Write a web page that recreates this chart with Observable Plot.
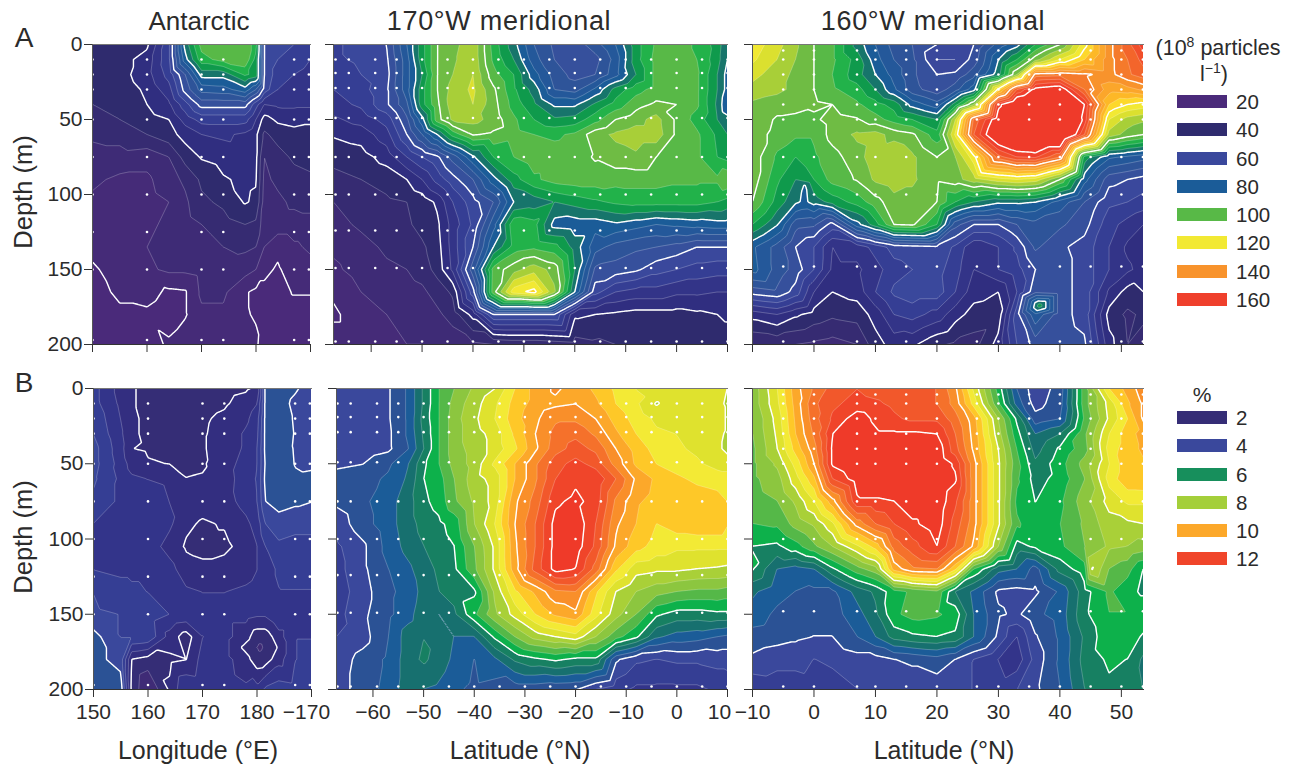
<!DOCTYPE html>
<html><head><meta charset="utf-8">
<script src="https://cdn.jsdelivr.net/npm/d3@7"></script>
<script src="https://cdn.jsdelivr.net/npm/@observablehq/plot@0.6"></script>
<style>
html,body{margin:0;padding:0;background:#fff}
#page{position:relative;width:1293px;height:765px;overflow:hidden;font-family:"Liberation Sans",Arial,sans-serif;color:#2b2b2b}
#page svg{position:absolute;overflow:visible}
.t{position:absolute;white-space:nowrap;line-height:1}
.sw{position:absolute;width:50px;height:13px}
</style></head><body><div id="page"></div>
<script>
// ---- sampled depths (m) shared by all sections
const depthRows = [0,10,20,30,40,50,60,75,90,105,120,135,150,165,180,200];

// ---- Panel A: particles, 10^8 per litre
const lonColsA = [150,155,160,164,167,170,174,178,180,181.5,184,187,190];
const antarcticParticles = [
[36,37,39,54,82,97,99,99,92,60,57,55,50],
[36,38,42,54,78,93,97,99,88,60,55,53,50],
[36,38,43,52,65,82,82,91,88,60,52,50,48],
[35,37,41,48,62,72,73,78,70,58,50,48,47],
[35,36,40,44,53,62,62,62,52,45,46,46,46],
[33,35,38,40,47,52,52,52,45,38,41,42,41],
[31,32,35,38,42,45,46,44,41,34,37,38,38],
[28,28,27,30,37,40.5,42,43,41,30,33,36,37],
[26,24,24,28,31,36,39.5,41,40.5,29,31,33,34],
[24,23,23,25,29,34,36,40.5,39,28,29,31,32],
[24,24,24,26,28,30,33,35,34,27,28,28,28],
[22,24,25,27,27,28,30,31,30,25,21,24,26],
[19,23,24,26,26,27,28,27,25,21,19.5,22,23],
[18,21,22,19,19.5,26,26,20.5,19,19,18,20.5,20.5],
[17,19,19,17,19.5,24,24,20.5,19.5,18,17,17,17],
[16,16,17,21,23,25,25,24,21,17,16,16,16]];

const latColsW170 = [-67.4,-62,-57,-53,-50,-47,-44,-40,-36,-32,-28,-24,-20,-16,-12,-8,-4,0,4,8,10];
const w170Particles = [
[54,57,60,75,88,100,103,109,93,82,70,64,62,68,75,88,96,98,94,88,80],
[54,56,59,73,88,100,104,109,94,85,72,65,60,63,72,88,97,98,95,87,80],
[52,55,58,73,85,100,105,110,97,90,77,68,63,65,73,85,97,98,96,85,78],
[50,53,59,73,88,100,107,111,101,91,83,70,68,76,87,93,97,99,96,85,78],
[48,51,59,69,88,99,108,110,102,93,86,79,79,86,92,98,101,100,96,84,75],
[44,47,52,64,78,98,106,107,103,96,90,86,87,93,100,103,107,99,93,85,82],
[40.5,42,48,60,70,80,92,100.5,99,97,95,94,96,103,106,108,108,99,96,89,85],
[37,38,42,50,55,59,67,79,90,95,98,97.5,98,100.5,103,104,100,97,96,90,88],
[33,35,37,40,45,52,58,65,78,88,94,97,98,98,97,97,97,96,96,96,100],
[30,32,34,35,37,41,50,58,65,80,82,85,87,89,91,92,92,92,92,90,88],
[28,31,33,34,37,39,47,56,73,94,92,78,77,77,79,77,75,76,77,78,78],
[26,28,31,32,34,38,47,60,80,92,94,92,83,72,68,66,65,63,60,60,60],
[24,27,29,30,32,37,46,68,97,103,108,103,85,64,63,61,57,55,53,52,52],
[21,25,27,28,29,32,36,58,98,118,122,106,80,57,50,48,48,46,46,45,45],
[19,23,25,26,27,29,32,42,60,60,60,60,41,40,39,38,38,38,39,40,41],
[23,23,24,25,25,26,27,29,30,31,31,32,33,34,35,36,36,37,37,37,37]];

const latColsW160 = [-10,-6,-3,0,3,7,10,13,16,20,23,26,30,33,36,40,44,48,51,53.6];
const w160Particles = [
[118,112,106,100,96,83,75,68,65,60,55,60,72,78,90,100,118,138,148,158],
[116,110,105,100,96,88,77,70,66,55,55,62,80,90,103,115,125,138,145,152],
[112,107,104,100,95,87,80,73,66,60,61,68,83,105,142,143,141,138,144,148],
[108,106,104,100,96,92,85,76,67,62,68,78,122,150,162,165,145,132,133,136],
[104,103,103,101,100,96,92,88,78,72,88,105,158,170,175,175,160,125,120,118],
[105,99,98,99,102,100.5,97,93,90,85,110,146,165,172,180,180,158,115,108,106],
[103,98,96,96,102,106,107,103,101,92,116,150,170,175,178,178,150,108,103,100],
[103,94,90,94,98,103,108,110,106,100,105,118,148,155,156,145,88,76,74,72],
[103,91,85,90,97,100.5,106,108,106,101,103,108,113,115,113,100,77,62,60,58],
[100,88,81,82,87,92,98,103,103,100,90,85,81,81,80,73,65,56,55,53],
[90,80.5,67,66,58,78,88,100,101,90,67,60,60,65,68,66,62,52,48,45],
[76,68,60,55,45,47,52,57,58,59,54,46,50,56,66,61,58,50,44,42],
[77,68,63,55,44,44,48,53,55,57,52,45,50,53,60,62,58,50,46,43],
[62,64,58,45,40,42,50,56,58,58,50,42,40,50,64,62,58,44,38,40],
[42,45,41,38,36,37,42,50,52,48,42,38,37,58,74,62,58,38,34,36],
[30,31,30,29,28,30,38,42,41,36,34,33,42,55,62,63,61,42,35,33]];
const w160ParticleSpots = [[36.7,174,88],[-1.5,94,79.5],[-1.5,105,79]];

// ---- Panel B: percent
const lonColsB = [150,155,157,160,164,167,170,174,178,180,181.5,184,187,190];
const antarcticPercent = [
[3.2,2.3,2.05,1.9,1.9,1.9,1.85,1.85,1.95,2.1,4.1,4.4,4.1,3.7],
[3.2,2.4,2.05,1.9,1.85,1.85,1.85,1.95,2.2,2.5,4.1,4.3,3.85,3.8],
[3.4,2.5,2.1,1.9,1.85,1.9,1.95,2.1,2.4,2.8,4.1,4.3,3.95,3.9],
[3.5,2.6,2.1,1.9,1.9,1.9,1.97,2.15,2.6,2.9,4.1,4.3,3.98,3.9],
[3.7,2.7,2.02,1.95,1.9,1.9,1.97,2.2,2.6,3,4.1,4.4,3.95,3.9],
[3.7,2.8,2.3,2.05,2,1.9,1.95,2.3,2.7,3,4.05,4.4,3.98,3.9],
[3.6,2.9,2.6,2.5,2.4,2.02,2.05,2.25,2.8,3.05,4.1,4.4,4.1,4.15],
[3.4,2.9,2.8,2.8,2.5,2.3,2.2,2.3,2.7,3,4,4.2,4.1,4.02],
[3,2.9,2.9,2.9,2.6,2.1,1.95,2.05,2.4,2.7,3.5,3.8,3.7,3.7],
[2.9,2.9,2.9,2.8,2.3,1.95,1.9,1.9,2.2,2.5,3,3.4,3.3,3.3],
[3,2.9,2.9,2.9,2.7,2.2,2.1,2.2,2.3,2.5,2.9,3.05,3.1,3.1],
[3.5,3.2,3.1,3,2.9,2.6,2.5,2.5,2.6,2.7,2.9,3,3,3],
[3.6,3.5,3.4,3.3,3,2.9,2.7,2.7,2.7,2.6,2.6,3,3,3],
[4.2,3.5,3.5,3.4,2.3,1.75,2.5,2.7,2.2,1.7,1.7,2.3,3,3],
[4.2,3.8,2,1.8,1.9,2,2.7,2.7,2.2,1.7,1.75,2.3,3,3.1],
[4.2,4.3,1.9,1,2.1,3,2.9,2.8,2.6,2.7,3.1,3.3,3.2,3.3]];
const antarcticPercentSpots = [[177.4,172,1.95],[183.5,172,1.95],[180.5,172,1.4]];

const w170Percent = [
[3.7,3.8,3.95,4.6,5.6,6.5,7,7.6,8,9,9.7,10.1,9.8,9.4,8.9,8.5,8.4,8.5,8.5,8.4,8],
[3.6,3.7,3.95,4.6,5.6,6.5,7.2,7.8,8.4,9.2,9.7,9.9,10,9.6,9,8.6,7.95,8.4,8.4,8.2,7.9],
[3.6,3.7,3.95,4.6,5.7,6.5,7.3,7.9,8.5,9.3,9.9,10.4,10.4,10,9.3,8.8,8.4,8.4,8.4,8.4,7.9],
[3.6,3.7,3.9,4.6,5.6,6.5,7.3,7.8,8.2,9.1,10,10.7,10.9,10.4,9.6,9,8.6,8.5,8.5,8.2,7.9],
[3.5,3.7,3.9,4.5,5.5,6.5,7.3,7.7,8.2,8.9,9.9,10.8,11.2,10.9,10,9.3,8.8,8.6,8.4,8.1,7.9],
[3.9,4,4.4,5,5.9,6.5,7.2,7.7,8.6,9.5,10.4,11.3,11.7,11.3,10.3,9.4,9,8.8,8.6,8.3,8.2],
[4.2,4.3,4.6,5.1,6,6.3,7,7.8,8.2,9.5,10.4,11.5,11.9,11.9,11,9.9,9.4,9.1,8.9,8.8,8.8],
[4.1,4.4,4.8,5.3,5.9,6.2,6.9,7.6,8.2,9.9,10.7,11.9,12.15,11.8,10.4,9.6,9.3,9.2,9.3,9.2,9],
[3.7,4.3,4.8,5.3,5.7,5.9,6.2,7.5,8.5,10,11,12.2,12.4,11.5,10.1,9.5,9,9.3,9.4,9.4,9.05],
[3.4,3.9,4.7,5.2,5.5,5.8,6,7,8.1,9.9,11,12.2,12.3,11.4,9.9,9.2,8.8,8.6,8.6,8.6,8.6],
[3.3,3.9,4.5,4.9,5.3,5.6,5.9,6.9,8.1,9.8,11.2,12.2,12,10.8,9.1,8.2,8.1,8.1,8,7.95,7.9],
[3.2,3.8,4.4,4.7,5.2,5.5,5.7,5.9,7.6,8.9,9.6,10.4,10.5,9.1,8,7.5,7.2,7,6.9,6.9,6.8],
[3.3,3.9,4.4,4.8,5.4,5,5.4,6.4,7.4,8.2,9,9.6,9.9,8.7,7.7,7,6.1,5.8,5.8,5.9,5.9],
[3.5,3.8,4.5,5.3,5.5,5.4,5,5,6.1,7,7.7,8,8.3,7.5,6.7,6.1,5.1,4.8,4.7,4.5,4.4],
[3.7,4.2,4.6,5.3,5.6,5.3,4.9,4.5,4.9,5.6,5.9,6.1,5.9,5.9,4.1,3.6,3.5,3.6,3.6,3.7,3.7],
[3.8,4.2,4.7,5.3,5,4.9,4.6,4.4,4.3,4.2,4.2,4.1,4.05,3.5,3.2,2.9,2.9,2.9,2.9,3.1,3.2]];

const w160Percent = [
[7.2,8.5,9.8,10.6,11.2,11.5,11.3,11.2,11.2,11,10.1,8.4,6.3,4.5,3.7,4.2,6.8,9,9.7,10.3],
[7.2,8.4,9.7,10.9,11.4,11.7,11.6,11.4,11.2,11,10.3,8.8,6.6,4.8,3.8,4.3,6.8,8.2,9.4,10.1],
[7,8.2,9.6,10.8,11.6,12.3,11.9,11.6,11.4,11.4,10.7,9.7,7.5,5.9,4.2,4.5,6.6,8.1,9,10.1],
[7,8.1,9.5,10.6,12,12.4,12.1,12.1,12.1,12,11,9.8,7.7,6.2,5,5.5,6.9,8.5,9.3,9.7],
[6.9,8,9.2,10.3,12.1,12.5,12.6,12.6,12.6,12.4,11.2,9.9,8,6.5,5.3,6.1,6.8,8.7,9.3,9.6],
[6.9,7.6,8.7,10,12.1,12.6,12.6,12.6,12.6,12.5,11.9,10.2,8.1,6.7,5.6,6.3,7.2,8.5,9.4,9.45],
[6.9,7.3,8.3,9.4,11.5,12.3,12.6,12.6,12.6,12.5,12.1,10.2,8.1,6.6,5.8,6.2,7,8.7,9.4,9.45],
[6.8,7,7.6,8.5,9.8,11.9,11.9,12,12.4,12.4,11.6,10.2,8.1,6.4,6,6.4,7.3,8.2,8.6,8.6],
[6.5,6.6,7.2,7.6,8.4,10.2,11,11.5,11.9,12.3,11.3,10.2,8.1,6.6,6.2,6.5,7.1,7.8,7.9,8],
[6,5.9,6.3,6.9,7.5,8.4,9.2,10.7,11.3,12,11,9.9,7.5,5.8,6.1,6.4,7,7.6,7.5,7.3],
[6.05,5,4.8,5,5.9,6.8,7.3,9.7,10.4,10.5,9.1,6.5,5.2,5,4.3,5.7,6.3,7,6.7,6],
[5.1,4.7,4.5,4.4,4.4,5.2,5.6,6.3,6.6,6.9,5.5,4.9,3.9,3.8,3.9,4.6,5.8,6.6,6.2,5.9],
[4.8,4.4,4.2,4.2,4.3,4.8,5.4,6.4,6.7,6.6,6.3,5,4.1,3.9,4.4,4.7,5.9,6.5,6.5,6.5],
[4.3,4.2,4.1,4,4,4.5,5,5.7,5.9,6,5.9,5,3.9,3,3.95,4.6,5.6,6.4,6.4,5.9],
[3.9,3.7,3.7,3.5,3.6,3.8,3.8,4,4.1,4.3,4,3.5,3,2.7,3.7,4.6,5.7,6.1,6,5.4],
[3.1,3.2,3.2,3.3,3.3,3.5,3.6,3.7,3.7,3.7,3.6,3.5,3.2,3.5,3.9,4.5,5.5,5.9,5.8,5.5]];
const w160PercentSpots = [[45.2,120,8.05]];

// ---- white station dots
const stationLonsAnt = [150,160,170,174,187,189.7];
const stationDepthsAnt = [10,20,30,50,75,100,125,150,197];
const stationLatsW170 = [-67,-64.4,-59.2,-55,-50,-45,-40,-35,-30,-25,-20,-15,-10,-5,0,5,10];
const stationDepthsW170 = [10,19,29,49,75,100,124,149,198];
const stationLatsW160 = [-5,0,7,10,15,20,26.5,30,35,40,45,50,53.5];
const stationDepthsW160 = [4,10,20,30,40,50,75,100,148,198];

// ---- colour bands
const particleBreaks = [20,25,30,35,40,45,50,55,60,65,70,75,80,85,90,95,100,105,110,115,120,125,130,135,140,145,150,155,160];
const particleColors = ["#4a2a7a","#452b78","#3e2b76","#362b72","#2f2b6e","#302e80","#333488","#353e94","#3a489c","#36509c","#2e5499","#24589a","#1b5c98","#17756b","#0f9a4c","#22b24a","#58b947","#6fbc44","#a8cf38","#dbe02f","#f2e933","#fdd82b","#fdb827","#fba62b","#f8932c","#f57a2b","#f3652b","#f14f2b","#ef402c","#ef3a2a"];
const particleThick = [20,40,60,80,100,120,140,160];
const percentBreaks = [0.5,1,1.5,2,2.5,3,3.5,4,4.5,5,5.5,6,6.5,7,7.5,8,8.5,9,9.5,10,10.5,11,11.5,12];
const percentColors = ["#4f2a7c","#4a2a7a","#3f2b76","#352d76","#332e80","#33348a","#353e94","#3a489c","#2b5295","#1b5c98","#17706f","#178062","#0db14b","#55b848","#8cc63f","#a9d038","#dfe22e","#f3ea35","#fec828","#fca82a","#f98f2a","#f5712b","#f2582b","#f0452a","#ef3a29"];
const percentThick = [2,4,6,8,10,12];

// ---- legends and labels
const particleLegend = [20,40,60,80,100,120,140,160];
const particleLegendColors = ["#4a2a7a","#2f2b6e","#3a489c","#1b5c98","#58b947","#f2e933","#f8932c","#ef402c"];
const percentLegend = [2,4,6,8,10,12];
const percentLegendColors = ["#352d76","#3a489c","#178f5c","#a4cf3a","#fca82a","#f0452a"];
const ticksLon = [150,160,170,180,190];
const ticksW170 = [-60,-50,-40,-30,-20,-10,0,10];
const ticksW160 = [-10,0,10,20,30,40,50];
const ticksDepth = [0,50,100,150,200];

const page = document.getElementById("page");
const minus = d => String(d).replace("-", "\u2212");
const onContour = 0.01; // keeps flat readings off a contour level

function points(cols, rows, matrix, spots, pad) {
  const out = [];
  const xs = [cols[0] - pad * 2, ...cols, cols[cols.length - 1] + pad * 2];
  const ys = [-6, ...rows, 206];
  ys.forEach((y, j) => {
    const row = matrix[Math.min(Math.max(j - 1, 0), rows.length - 1)];
    xs.forEach((x, i) => out.push({x, y, v: row[Math.min(Math.max(i - 1, 0), cols.length - 1)] - onContour}));
  });
  (spots || []).forEach(([x, y, v]) => out.push({x, y, v}));
  return out;
}

function panel(o) {
  const ml = 50, mr = 8, mt = 3, mb = 34;
  const pts = points(o.cols, depthRows, o.values, o.spots, o.pad);
  const common = {x: "x", y: "y", interpolate: "barycentric", pixelSize: 1, smooth: true, clip: true,
    x1: o.domain[0] - o.pad, x2: o.domain[1] + o.pad, y1: -3, y2: 203};
  const stations = o.stations[0].flatMap(x => o.stations[1].map(y => ({x, y})));
  const shifted = o.endTick !== undefined;
  const axisStyle = {label: null, stroke: "#333", fontSize: 21};
  const fmt = o.xLabels ? (d => d === 190 ? "\u2212170" : minus(d)) : () => "";
  const svg = Plot.plot({
    width: o.w + ml + mr, height: o.h + mt + mb,
    marginLeft: ml, marginRight: mr, marginTop: mt, marginBottom: mb,
    style: {fontFamily: '"Liberation Sans",Arial,sans-serif', fontSize: "21px", color: "#2b2b2b", background: "none", overflow: "visible"},
    x: {domain: o.domain, axis: null},
    y: {domain: [200, 0], axis: null},
    color: {type: "threshold", domain: o.breaks, range: o.colors},
    marks: [
      Plot.contour(pts, {...common, fill: "v", thresholds: [0, ...o.breaks]}),
      Plot.contour(pts, {...common, value: "v", thresholds: o.breaks, stroke: "#fff", strokeOpacity: 0.42, strokeWidth: 0.6, fill: "none"}),
      Plot.contour(pts, {...common, value: "v", thresholds: o.thick, stroke: "#fff", strokeWidth: 1.4, fill: "none"}),
      Plot.dot(stations, {x: "x", y: "y", r: 1.3, fill: "#fff"}),
      Plot.frame({anchor: "top", stroke: "#777", strokeWidth: 1}),
      Plot.frame({anchor: "bottom", stroke: "#333", strokeWidth: 1}),
      Plot.frame({anchor: "left", stroke: "#555", strokeWidth: 1}),
      Plot.axisX({...axisStyle, ticks: o.ticks, tickSize: 8, tickPadding: 7,
        tickFormat: d => (shifted && d === o.endTick) ? "" : fmt(d)}),
      shifted ? Plot.axisX({...axisStyle, ticks: [o.endTick], tickSize: 0, tickPadding: 15, tickFormat: fmt, dx: o.endShift}) : null,
      Plot.axisY({...axisStyle, ticks: ticksDepth, tickSize: 8, tickPadding: 2,
        tickFormat: o.yLabels ? (d => String(d)) : () => ""})
    ]
  });
  svg.style.left = (o.left - ml) + "px";
  svg.style.top = (o.top - mt) + "px";
  page.appendChild(svg);
}

const rowA = 44, rowB = 388, pH = 300;
const partBase = {breaks: particleBreaks, colors: particleColors, thick: particleThick, h: pH};
const pctBase = {breaks: percentBreaks, colors: percentColors, thick: percentThick, h: pH + 1};

panel({...partBase, left: 92, top: rowA, w: 218, domain: [150, 190], pad: 0.5, cols: lonColsA, values: antarcticParticles,
  ticks: ticksLon, stations: [stationLonsAnt, stationDepthsAnt], yLabels: true});
panel({...partBase, left: 333, top: rowA, w: 394, domain: [-67.4, 10], pad: 1, cols: latColsW170, values: w170Particles,
  ticks: ticksW170, stations: [stationLatsW170, stationDepthsW170]});
panel({...partBase, left: 752, top: rowA, w: 391, domain: [-10, 53.6], pad: 1, cols: latColsW160, values: w160Particles, spots: w160ParticleSpots,
  ticks: ticksW160, stations: [stationLatsW160, stationDepthsW160]});
panel({...pctBase, left: 93, top: rowB, w: 218, domain: [150, 190], pad: 0.5, cols: lonColsB, values: antarcticPercent, spots: antarcticPercentSpots,
  ticks: ticksLon, stations: [stationLonsAnt, stationDepthsAnt], yLabels: true, xLabels: true, endTick: 190, endShift: -5});
panel({...pctBase, left: 336, top: rowB, w: 391, domain: [-67.2, 10], pad: 1, cols: latColsW170, values: w170Percent,
  ticks: ticksW170, stations: [stationLatsW170, stationDepthsW170], xLabels: true, endTick: 10, endShift: -8});
panel({...pctBase, left: 752, top: rowB, w: 391, domain: [-10, 53.6], pad: 1, cols: latColsW160, values: w160Percent, spots: w160PercentSpots,
  ticks: ticksW160, stations: [stationLatsW160, stationDepthsW160], xLabels: true});

function text(str, x, y, size, anchor, extra, spacing) {
  const d = document.createElement("div");
  d.className = "t";
  d.innerHTML = str;
  d.style.fontSize = size + "px";
  d.style.left = x + "px";
  d.style.top = y + "px";
  if (spacing) d.style.letterSpacing = spacing + "px";
  const tx = anchor === "c" ? "translate(-50%,-50%)" : "translateY(-50%)";
  d.style.transform = tx + (extra || "");
  page.appendChild(d);
}
text("Antarctic", 199, 21, 26, "c");
text("170\u00b0W meridional", 499, 21, 27, "c", "", 0.7);
text("160\u00b0W meridional", 933, 21, 27, "c", "", 0.7);
text("A", 24, 38, 28, "c");
text("B", 24, 383, 28, "c");
text("Depth (m)", 24, 192, 25.5, "c", " rotate(-90deg)");
text("Depth (m)", 24, 537, 25.5, "c", " rotate(-90deg)");
text("Longitude (\u00b0E)", 198, 750, 25, "c");
text("Latitude (\u00b0N)", 520, 750, 25, "c");
text("Latitude (\u00b0N)", 944, 750, 25, "c");
text('(10<sup style="font-size:14px;line-height:0">8</sup> particles', 1218, 49, 21.5, "c");
text('l<sup style="font-size:14px;line-height:0">\u22121</sup>)', 1214, 75, 21.5, "c");
text("%", 1202, 394, 21, "c");

function legend(values, colors, tops) {
  values.forEach((v, i) => {
    const s = document.createElement("div");
    s.className = "sw";
    s.style.left = "1177px";
    s.style.top = tops[i] + "px";
    s.style.background = colors[i];
    page.appendChild(s);
    text(String(v), 1236, tops[i] + 7, 20.5, "l");
  });
}
legend(particleLegend, particleLegendColors, [95,123,152,180,208,236,265,293]);
legend(percentLegend, percentLegendColors, [411,439,468,496,524,552]);
</script></body></html>
